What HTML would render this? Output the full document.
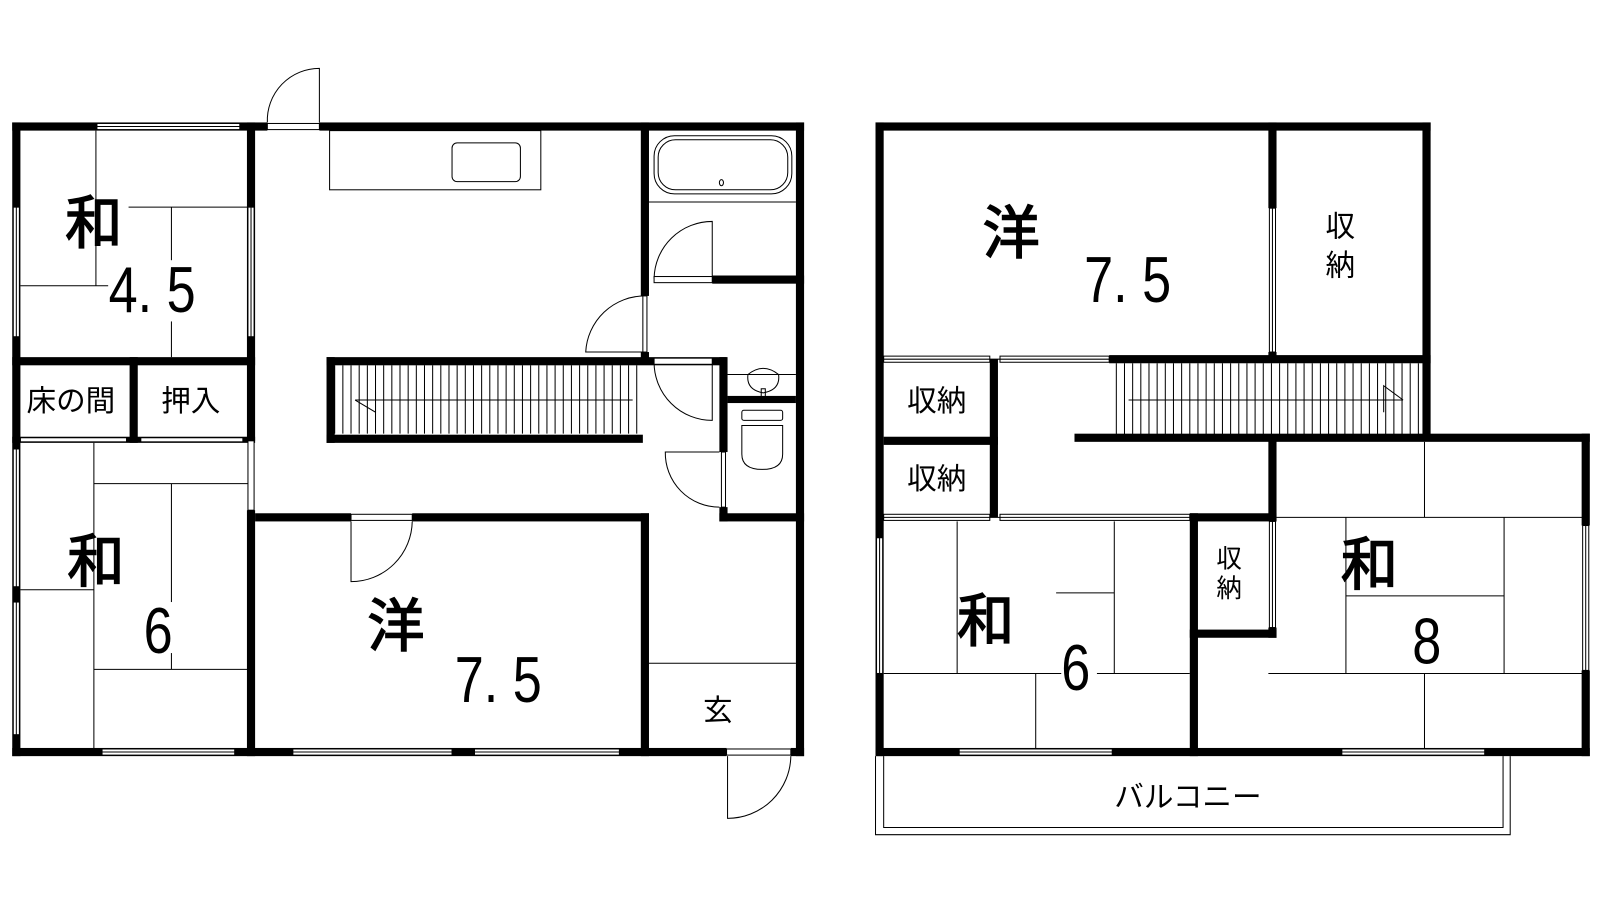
<!DOCTYPE html>
<html><head><meta charset="utf-8"><style>
html,body{margin:0;padding:0;background:#fff;}
svg{display:block}
text{font-family:"Liberation Sans","Noto Sans CJK JP",sans-serif;fill:#000}
</style></head><body>
<svg width="1600" height="900" viewBox="0 0 1568 882" xmlns="http://www.w3.org/2000/svg">
<g fill="none" stroke="#000" stroke-width="1">
<line x1="94" y1="128" x2="94" y2="280"/>
<line x1="126" y1="203" x2="245" y2="203"/>
<line x1="168" y1="203" x2="168" y2="255"/>
<line x1="168" y1="315" x2="168" y2="350"/>
<line x1="20" y1="280" x2="106" y2="280"/>
<line x1="92" y1="434" x2="92" y2="733"/>
<line x1="92" y1="474" x2="245" y2="474"/>
<line x1="168" y1="474" x2="168" y2="590"/>
<line x1="168" y1="640" x2="168" y2="656"/>
<line x1="92" y1="656" x2="245" y2="656"/>
<line x1="20" y1="578" x2="92" y2="578"/>
<rect x="323" y="128" width="207" height="58"/>
<rect x="443" y="140" width="67" height="38" rx="5"/>
<line x1="636" y1="198" x2="780" y2="198"/>
<rect x="641" y="133" width="135" height="57" rx="20"/>
<rect x="645" y="137" width="127" height="49" rx="17"/>
<ellipse cx="707" cy="179" rx="2" ry="3"/>
<path d="M313 120 L313 67 A51 51 0 0 0 262 120"/>
<path d="M698 273 L698 217 A57 57 0 0 0 641 273"/>
<path d="M632 290 L632 345 L574 345 A58 58 0 0 1 632 290"/>
<path d="M698 355 L698 412 A57 57 0 0 1 641 355"/>
<path d="M705 443 L652 443 A53 53 0 0 0 705 497"/>
<path d="M344 511 L344 570 A60 60 0 0 0 404 511"/>
<path d="M713 741 L713 802 A62 62 0 0 0 775 741"/>
<line x1="713" y1="367" x2="780" y2="367"/>
<path d="M733 367 Q748 355 763 367 Q765 382 748 385 Q731 382 733 367 Z"/>
<rect x="746" y="381" width="4" height="8"/>
<rect x="727" y="402" width="40" height="10" rx="2"/>
<path d="M727 417 L767 417 L767 445 Q767 460 747 460 Q727 460 727 445 Z"/>
<line x1="636" y1="650" x2="780" y2="650"/>
<line x1="938" y1="511" x2="938" y2="660"/>
<line x1="1092" y1="511" x2="1092" y2="660"/>
<line x1="1035" y1="581" x2="1092" y2="581"/>
<line x1="866" y1="660" x2="1040" y2="660"/>
<line x1="1075" y1="660" x2="1166" y2="660"/>
<line x1="1015" y1="660" x2="1015" y2="737"/>
<line x1="1396" y1="433" x2="1396" y2="507"/>
<line x1="1251" y1="507" x2="1554" y2="507"/>
<line x1="1319" y1="507" x2="1319" y2="660"/>
<line x1="1474" y1="507" x2="1474" y2="660"/>
<line x1="1319" y1="584" x2="1474" y2="584"/>
<line x1="1243" y1="660" x2="1554" y2="660"/>
<line x1="1396" y1="660" x2="1396" y2="737"/>
<path d="M858 741 L858 818 L1480 818 L1480 741"/>
<path d="M866 741 L866 811 L1473 811 L1473 741"/>
</g>
<g stroke="#000" stroke-width="1">
<path d="M328 358 V425 M336 358 V425 M344 358 V425 M352 358 V425 M360 358 V425 M368 358 V425 M376 358 V425 M384 358 V425 M392 358 V425 M400 358 V425 M408 358 V425 M416 358 V425 M424 358 V425 M432 358 V425 M440 358 V425 M448 358 V425 M456 358 V425 M464 358 V425 M472 358 V425 M480 358 V425 M488 358 V425 M496 358 V425 M504 358 V425 M512 358 V425 M520 358 V425 M528 358 V425 M536 358 V425 M544 358 V425 M552 358 V425 M560 358 V425 M568 358 V425 M576 358 V425 M584 358 V425 M592 358 V425 M600 358 V425 M608 358 V425 M616 358 V425 M624 358 V425"/>
<path d="M348 392 H620 M348 392 L368 404 V384" fill="none"/>
<path d="M1094 356 V428 M1102 356 V428 M1110 356 V428 M1118 356 V428 M1126 356 V428 M1134 356 V428 M1142 356 V428 M1150 356 V428 M1158 356 V428 M1166 356 V428 M1174 356 V428 M1182 356 V428 M1190 356 V428 M1198 356 V428 M1206 356 V428 M1214 356 V428 M1222 356 V428 M1230 356 V428 M1238 356 V428 M1246 356 V428 M1254 356 V428 M1262 356 V428 M1270 356 V428 M1278 356 V428 M1286 356 V428 M1294 356 V428 M1302 356 V428 M1310 356 V428 M1318 356 V428 M1326 356 V428 M1334 356 V428 M1342 356 V428 M1350 356 V428 M1358 356 V428 M1366 356 V428 M1374 356 V428 M1382 356 V428 M1390 356 V428"/>
<path d="M1106 392 H1375 M1375 392 L1356 378 V404" fill="none"/>
</g>
<g fill="#000">
<rect x="12" y="120" width="250" height="8"/>
<rect x="313" y="120" width="475" height="8"/>
<rect x="12" y="120" width="8" height="621"/>
<rect x="780" y="120" width="8" height="621"/>
<rect x="12" y="733" width="700" height="8"/>
<rect x="775" y="733" width="13" height="8"/>
<rect x="242" y="120" width="8" height="312"/>
<rect x="242" y="500" width="8" height="241"/>
<rect x="12" y="350" width="238" height="8"/>
<rect x="127" y="350" width="8" height="84"/>
<rect x="12" y="428" width="238" height="6"/>
<rect x="628" y="120" width="8" height="170"/>
<rect x="628" y="345" width="8" height="10"/>
<rect x="698" y="270" width="90" height="8"/>
<rect x="320" y="350" width="392" height="8"/>
<rect x="320" y="350" width="8" height="84"/>
<rect x="320" y="426" width="310" height="8"/>
<rect x="705" y="350" width="8" height="93"/>
<rect x="705" y="497" width="8" height="14"/>
<rect x="713" y="388" width="67" height="7"/>
<rect x="705" y="503" width="83" height="8"/>
<rect x="250" y="503" width="94" height="8"/>
<rect x="404" y="503" width="232" height="8"/>
<rect x="628" y="503" width="8" height="238"/>
<rect x="858" y="120" width="544" height="8"/>
<rect x="858" y="120" width="8" height="621"/>
<rect x="1394" y="120" width="8" height="312"/>
<rect x="1243" y="120" width="8" height="84"/>
<rect x="1243" y="345" width="8" height="8"/>
<rect x="1087" y="348" width="315" height="8"/>
<rect x="970" y="352" width="8" height="155"/>
<rect x="866" y="428" width="112" height="8"/>
<rect x="1053" y="425" width="505" height="8"/>
<rect x="1550" y="425" width="8" height="90"/>
<rect x="1550" y="657" width="8" height="84"/>
<rect x="1243" y="430" width="8" height="81"/>
<rect x="1166" y="503" width="85" height="8"/>
<rect x="1166" y="503" width="8" height="238"/>
<rect x="1243" y="615" width="8" height="10"/>
<rect x="1166" y="617" width="85" height="8"/>
<rect x="858" y="733" width="700" height="8"/>
</g>
<g fill="#fff" stroke="#000" stroke-width="1">
<rect x="95" y="121" width="140" height="6"/>
<rect x="100" y="734" width="130" height="6"/>
<rect x="287" y="734" width="156" height="6"/>
<rect x="465" y="734" width="142" height="6"/>
<rect x="13" y="203" width="6" height="127"/>
<rect x="13" y="440" width="6" height="135"/>
<rect x="13" y="590" width="6" height="130"/>
<rect x="243" y="203" width="6" height="127"/>
<rect x="243" y="432" width="6" height="68"/>
<rect x="20" y="429" width="104" height="4"/>
<rect x="138" y="429" width="100" height="4"/>
<rect x="262" y="121" width="51" height="6"/>
<rect x="641" y="271" width="57" height="6"/>
<rect x="630" y="290" width="4" height="55"/>
<rect x="641" y="351" width="57" height="6"/>
<rect x="707" y="443" width="4" height="54"/>
<rect x="344" y="504" width="60" height="6"/>
<rect x="712" y="734" width="63" height="6"/>
<rect x="866" y="349" width="104" height="6"/>
<rect x="980" y="349" width="107" height="6"/>
<rect x="1244" y="204" width="6" height="141"/>
<rect x="866" y="504" width="104" height="6"/>
<rect x="980" y="504" width="186" height="6"/>
<rect x="1244" y="511" width="6" height="104"/>
<rect x="859" y="527" width="6" height="133"/>
<rect x="1551" y="515" width="6" height="142"/>
<rect x="940" y="734" width="150" height="6"/>
<rect x="1315" y="734" width="140" height="6"/>
</g>
<g stroke="#000" stroke-width="1">
<line x1="95" y1="124" x2="235" y2="124"/><line x1="100" y1="737" x2="230" y2="737"/>
<line x1="287" y1="737" x2="443" y2="737"/><line x1="465" y1="737" x2="607" y2="737"/>
<line x1="866" y1="352" x2="1087" y2="352"/><line x1="866" y1="507" x2="1166" y2="507"/>
<line x1="940" y1="737" x2="1090" y2="737"/><line x1="1315" y1="737" x2="1455" y2="737"/>
<line x1="16" y1="203" x2="16" y2="330"/><line x1="16" y1="440" x2="16" y2="720"/>
<line x1="246" y1="203" x2="246" y2="330"/><line x1="1247" y1="204" x2="1247" y2="345"/>
<line x1="1247" y1="511" x2="1247" y2="615"/><line x1="862" y1="527" x2="862" y2="660"/>
<line x1="1554" y1="515" x2="1554" y2="657"/>
</g>
<g font-size="56" stroke="#000" stroke-width="1.5">
<text x="64" y="238">和</text>
<text x="66" y="570">和</text>
<text x="360" y="633">洋</text>
<text x="963" y="248">洋</text>
<text x="938" y="628">和</text>
<text x="1314" y="573">和</text>
</g>
<g font-size="64" transform="scale(0.8,1)">
<text x="133" y="306">4. 5</text>
<text x="176" y="640">6</text>
<text x="557" y="688">7. 5</text>
<text x="1328" y="296">7. 5</text>
<text x="1300" y="676">6</text>
<text x="1730" y="650">8</text>
</g>
<g font-size="29">
<text x="26" y="403">床の間</text>
<text x="158" y="403">押入</text>
<text x="689" y="706">玄</text>
<text x="889" y="403">収納</text>
<text x="889" y="479">収納</text>
<text x="1299" y="232">収</text>
<text x="1299" y="270">納</text>
<text x="1092" y="791">バルコニー</text>
</g>
<g font-size="25">
<text x="1192" y="556">収</text>
<text x="1192" y="585">納</text>
</g>
</svg>
</body></html>
